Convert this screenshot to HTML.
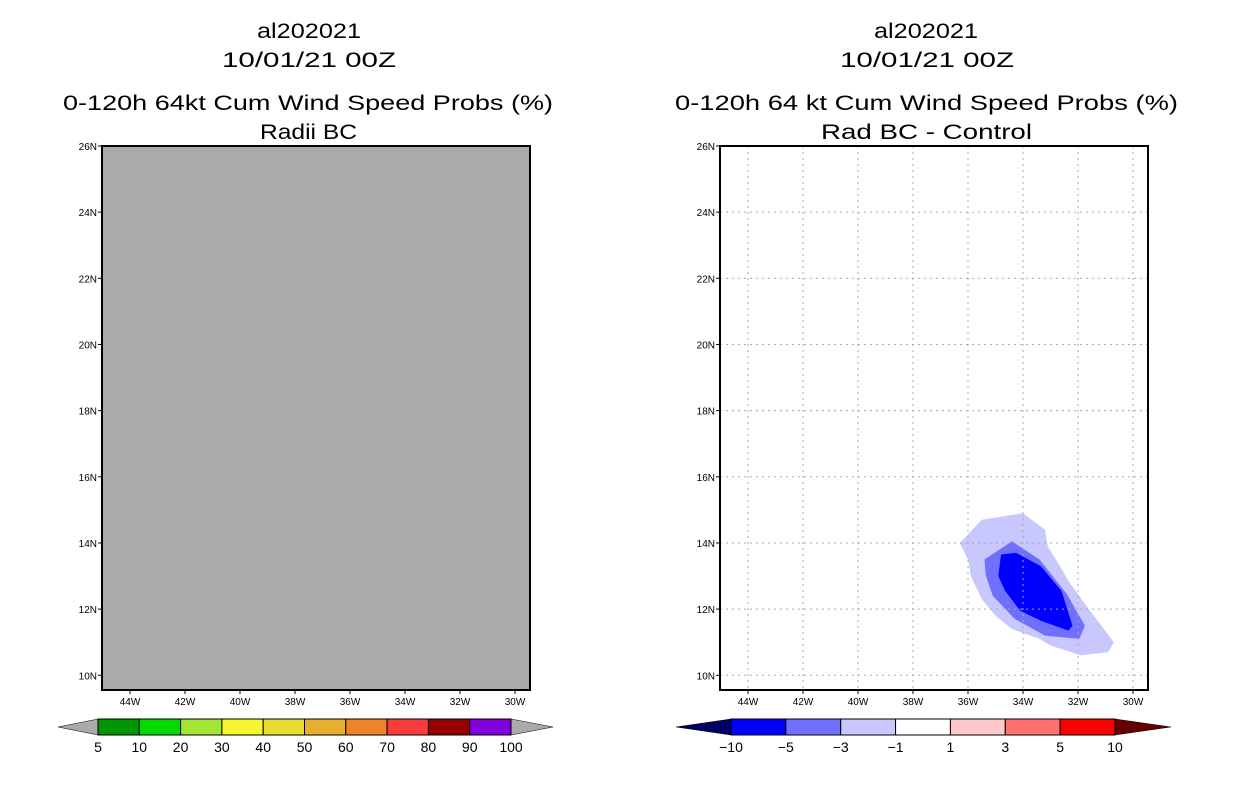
<!DOCTYPE html>
<html><head><meta charset="utf-8"><style>
html,body{margin:0;padding:0;background:#fff;}
svg{display:block;font-family:"Liberation Sans",sans-serif;}
</style></head><body>
<svg id="s" width="1236" height="800" viewBox="0 0 1236 800" xmlns="http://www.w3.org/2000/svg">
<g font-size="21" fill="#000">
<text x="257" y="38" textLength="104" lengthAdjust="spacingAndGlyphs">al202021</text>
<text x="222" y="67" textLength="174" lengthAdjust="spacingAndGlyphs">10/01/21 00Z</text>
<text x="63" y="110" textLength="490" lengthAdjust="spacingAndGlyphs">0-120h 64kt Cum Wind Speed Probs (%)</text>
<text x="260" y="139" textLength="97" lengthAdjust="spacingAndGlyphs">Radii BC</text>
</g>
<g font-size="21" fill="#000">
<text x="874" y="38" textLength="104" lengthAdjust="spacingAndGlyphs">al202021</text>
<text x="840" y="67" textLength="174" lengthAdjust="spacingAndGlyphs">10/01/21 00Z</text>
<text x="675" y="110" textLength="503" lengthAdjust="spacingAndGlyphs">0-120h 64 kt Cum Wind Speed Probs (%)</text>
<text x="821" y="139" textLength="211" lengthAdjust="spacingAndGlyphs">Rad BC - Control</text>
</g>
<g id="left"></g>
<g id="right"></g>
<g id="cbl"></g>
<g id="cbr"></g>
</svg>
<script>
const NS="http://www.w3.org/2000/svg";
const lonTicks=[44,42,40,38,36,34,32,30];
const latTicks=[26,24,22,20,18,16,14,12,10];
const latLabels=["26N","24N","22N","20N","18N","16N","14N","12N","10N"];
const lonLabels=["44W","42W","40W","38W","36W","34W","32W","30W"];
// Difference contours (lon in deg W, lat in deg N)
const outerLon=[36.3,35.5,34.0,33.2,33.1,32.3,31.7,30.7,30.9,31.9,33.0,33.4,34.4,35.0,35.5,35.9,36.0];
const outerLat=[14.0,14.7,14.9,14.4,13.9,12.8,12.1,11.0,10.7,10.6,10.9,11.1,11.4,11.8,12.3,13.0,13.5];
const midLon=[35.4,34.4,33.4,32.4,31.75,31.95,33.2,34.3,35.1,35.35];
const midLat=[13.5,14.05,13.5,12.45,11.5,11.1,11.2,11.7,12.4,13.0];
const innerLon=[34.8,34.25,33.35,32.6,32.2,32.35,33.35,34.1,34.65,34.9];
const innerLat=[13.65,13.7,13.3,12.55,11.5,11.35,11.65,11.95,12.55,13.0];
const leftCbLabels=["5","10","20","30","40","50","60","70","80","90","100"];
const leftCbColors=["#009600","#00dc00","#a0e632","#f5f532","#e6dc32","#e6af2d","#f08228","#fa3c3c","#960000","#8200dc"];
const rightCbLabels=["-10","-5","-3","-1","1","3","5","10"];
const rightCbColors=["#0000ff","#7070ff","#c8c8ff","#ffffff","#ffc8c8","#ff7070","#ff0000"];

function el(tag,attrs,parent){const e=document.createElementNS(NS,tag);for(const k in attrs)e.setAttribute(k,attrs[k]);parent.appendChild(e);return e;}
function mkX(x0){return lw=>x0+(44-lw)*27.5;}
function yOf(lat){return 146+(26-lat)*33.08;}

function panel(g,x0,gray){
  const X=mkX(x0+28);
  const bg=el('rect',{x:x0,y:146,width:428,height:544,fill:gray?'#aaaaaa':'#fff'},g);
  
  
  if(!gray){
    const shapes=[[outerLon,outerLat,'#c8c8ff','contour-minus1-to-minus3'],[midLon,midLat,'#7070ff','contour-minus3-to-minus5'],[innerLon,innerLat,'#0000ff','contour-minus5-to-minus10']];
    shapes.forEach(s=>{
      const pts=s[0].map((v,i)=>X(v).toFixed(1)+','+yOf(s[1][i]).toFixed(1)).join(' ');
      const p=el('polygon',{points:pts,fill:s[2]},g);
      
      
    });
    lonTicks.forEach(l=>{const ln=el('line',{x1:X(l),x2:X(l),y1:146,y2:690,stroke:'#aaa','stroke-dasharray':'2,4'},g);
      
      });
    latTicks.forEach(l=>{const ln=el('line',{x1:x0,x2:x0+428,y1:yOf(l),y2:yOf(l),stroke:'#aaa','stroke-dasharray':'2,4'},g);
      
      });
  }
  const fr=el('rect',{x:x0,y:146,width:428,height:544,fill:'none',stroke:'#000','stroke-width':2},g);
  
  
  latTicks.forEach((l,i)=>{
    el('line',{x1:x0-4,x2:x0,y1:yOf(l),y2:yOf(l),stroke:'#000'},g);
    const t=el('text',{x:x0-5,y:yOf(l)+4,'font-size':10,'text-anchor':'end'},g);
    t.textContent=latLabels[i];
    
    
  });
  lonTicks.forEach((l,i)=>{
    el('line',{x1:X(l),x2:X(l),y1:690,y2:694,stroke:'#000'},g);
    const t=el('text',{x:X(l),y:705,'font-size':10,'text-anchor':'middle'},g);
    t.textContent=lonLabels[i];
    
    
  });
}
panel(document.getElementById('left'),102,true);
panel(document.getElementById('right'),720,false);

function colorbar(g,x0,x1,tipL,tipR,colors,labels,lc,rc){
  const w=(x1-x0)/colors.length,y0=719,y1=735;
  const a=el('polygon',{points:`${tipL},727 ${x0},${y0} ${x0},${y1}`,fill:lc,stroke:'#000','stroke-width':0.5},g);
  
  
  const b=el('polygon',{points:`${tipR},727 ${x1},${y0} ${x1},${y1}`,fill:rc,stroke:'#000','stroke-width':0.5},g);
  
  
  colors.forEach((c,i)=>{
    const r=el('rect',{x:x0+i*w,y:y0,width:w,height:y1-y0,fill:c,stroke:'#000','stroke-width':1},g);
    
    
  });
  labels.forEach((s,i)=>{
    const t=el('text',{x:x0+i*w,y:752,'font-size':14,'text-anchor':'middle'},g);
    t.textContent=s.replace('-','\u2212');
    
    
  });
}
colorbar(document.getElementById('cbl'),98,511,58,553,leftCbColors,leftCbLabels,'#aaaaaa','#aaaaaa');
colorbar(document.getElementById('cbr'),731,1115,676,1171,rightCbColors,rightCbLabels,'#000064','#640000');
</script>
</body></html>
